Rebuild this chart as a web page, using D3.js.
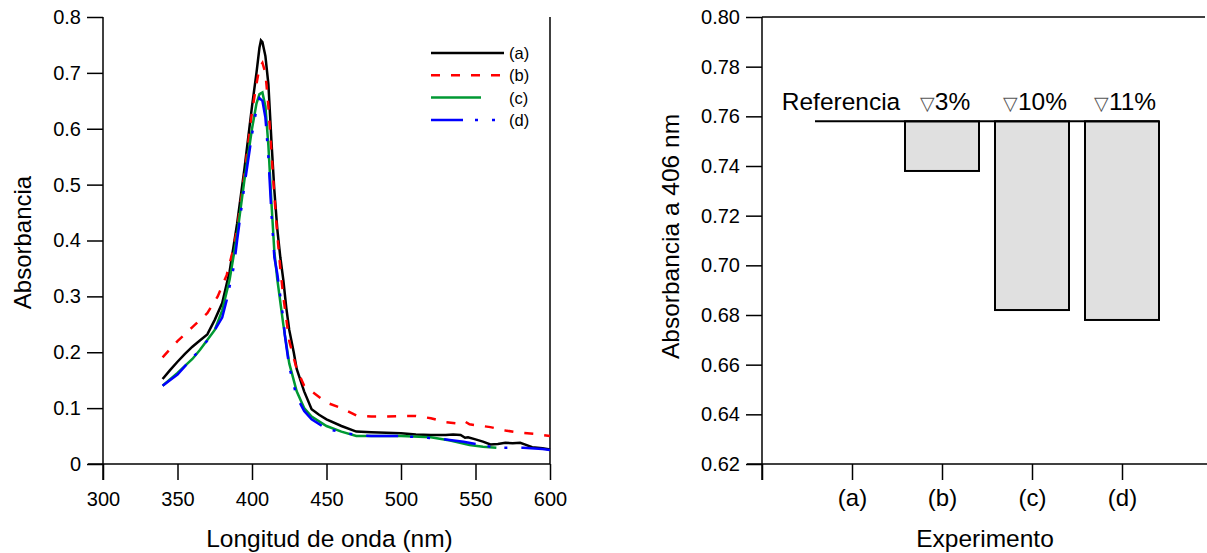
<!DOCTYPE html>
<html>
<head>
<meta charset="utf-8">
<script src="https://cdn.jsdelivr.net/npm/d3@7"></script>
<style>
  body { margin: 0; background: #fff; }
  svg { display: block; font-family: "Liberation Sans", Arial, sans-serif; }
  .axis path, .axis line { stroke: #000; stroke-width: 1.5; }
  .axis text { font-size: 20px; fill: #000; }
  .cat text { font-size: 24px; }
</style>
</head>
<body>
<div class="chart"></div>
<script>
// ---- left panel: spectra ----
const xTicks = [300, 350, 400, 450, 500, 550, 600];
const yTicks = [0, 0.1, 0.2, 0.3, 0.4, 0.5, 0.6, 0.7, 0.8];

const wlA = [340,345,350,355,360,365,370,375,380,385,390,395,400,403,405,406,407,409,411,413,415,417,419,421,423,425,428,430,435,440,445,450,460,470,480,490,500,510,520,530,535,540,543,545,550,555,560,565,570,575,580,583,588,595,600];
const absA = [0.152,0.168,0.183,0.197,0.210,0.221,0.232,0.258,0.288,0.345,0.43,0.53,0.64,0.70,0.745,0.758,0.755,0.73,0.68,0.58,0.49,0.42,0.37,0.33,0.28,0.24,0.20,0.17,0.13,0.098,0.088,0.080,0.068,0.058,0.057,0.056,0.055,0.053,0.052,0.052,0.053,0.052,0.047,0.048,0.044,0.040,0.035,0.036,0.038,0.037,0.038,0.035,0.030,0.028,0.026];

const wlB = [340,350,360,370,377,383,387,390,395,400,403,405,407,409,411,413,415,417,419,421,425,430,435,440,450,460,470,480,490,500,510,520,530,540,543,546,560,570,580,590,600];
const absB = [0.191,0.22,0.245,0.27,0.30,0.338,0.38,0.42,0.52,0.63,0.68,0.71,0.718,0.70,0.64,0.56,0.48,0.41,0.35,0.30,0.22,0.17,0.14,0.13,0.11,0.10,0.087,0.085,0.085,0.086,0.086,0.082,0.075,0.072,0.076,0.071,0.066,0.060,0.056,0.054,0.050];

const wlC = [340,350,360,365,370,375,380,385,390,395,400,403,405,407,409,411,413,415,417,419,421,425,430,435,440,450,460,470,480,500,520,533,546,555,564];
const absC = [0.140,0.163,0.188,0.204,0.222,0.240,0.275,0.33,0.41,0.51,0.60,0.645,0.662,0.665,0.64,0.57,0.47,0.38,0.33,0.29,0.25,0.18,0.13,0.10,0.085,0.068,0.058,0.050,0.050,0.050,0.048,0.042,0.034,0.031,0.029];

const wlD = [340,350,360,365,373,380,383,388,390,395,400,403,405,407,409,411,413,415,417,419,421,422,425,430,435,440,450,460,470,480,500,523,542,560,568,582,595,600];
const absD = [0.140,0.160,0.190,0.204,0.231,0.262,0.293,0.356,0.40,0.50,0.59,0.635,0.655,0.650,0.62,0.55,0.45,0.37,0.34,0.30,0.26,0.231,0.174,0.12,0.095,0.080,0.063,0.057,0.052,0.050,0.050,0.046,0.040,0.031,0.029,0.029,0.027,0.025];

const seriesNames = ["(a)", "(b)", "(c)", "(d)"];
const seriesColors = ["#000000", "#ff0000", "#009933", "#0000ff"];
const seriesDash = [null, "9,11", null, "32,12,3,14,3,14"];
const legendLen = [73, 73, 50, 73];

// ---- right panel: absorbance at 406 nm ----
const experiments = ["(a)", "(b)", "(c)", "(d)"];
const abs406 = [0.758, 0.738, 0.682, 0.678];
const barLabels = ["Referencia", "3%", "10%", "11%"];
const y2Ticks = [0.62, 0.64, 0.66, 0.68, 0.70, 0.72, 0.74, 0.76, 0.78, 0.80];

const W = 1207, H = 553;
const svg = d3.select(".chart").append("svg").attr("width", W).attr("height", H);

// left scales
const x = d3.scaleLinear().domain([300, 600]).range([103, 550]);
const y = d3.scaleLinear().domain([0, 0.8]).range([464, 17]);

const gx = svg.append("g").attr("class", "axis")
  .attr("transform", "translate(0," + y(0) + ")")
  .call(d3.axisBottom(x).tickValues(xTicks).tickFormat(d3.format("d")).tickSize(16).tickPadding(12).tickSizeOuter(0));
gx.select(".domain").attr("d", "M" + (x(300) - 15) + ",0H" + x(600));

const gy = svg.append("g").attr("class", "axis")
  .attr("transform", "translate(" + x(300) + ",0)")
  .call(d3.axisLeft(y).tickValues(yTicks).tickFormat(d => d === 0 ? "0" : d3.format(".1f")(d)).tickSize(16).tickPadding(6).tickSizeOuter(0));
gy.select(".domain").attr("d", "M0," + y(0.8) + "V" + (y(0) + 16));

// right border of left panel
svg.append("line").attr("x1", x(600)).attr("x2", x(600)).attr("y1", y(0.8)).attr("y2", y(0))
  .attr("stroke", "#000").attr("stroke-width", 1.5);

svg.append("text").attr("x", (x(300) + x(600)) / 2 + 3).attr("y", 547)
  .attr("text-anchor", "middle").style("font-size", "24.5px").text("Longitud de onda (nm)");
svg.append("text").attr("transform", "translate(31," + ((y(0) + y(0.8)) / 2 + 2) + ") rotate(-90)")
  .attr("text-anchor", "middle").style("font-size", "24px").text("Absorbancia");

const spectra = [[wlA, absA], [wlB, absB], [wlC, absC], [wlD, absD]];
const line = d3.line().x(d => x(d[0])).y(d => y(d[1]));

spectra.forEach((s, i) => {
  const pts = d3.zip(s[0], s[1]);
  svg.append("path").datum(pts)
    .attr("d", line)
    .attr("fill", "none")
    .attr("stroke", seriesColors[i])
    .attr("stroke-width", 2.5)
    .attr("stroke-dasharray", seriesDash[i]);
});

// legend
const legend = svg.append("g").attr("transform", "translate(431,53)");
seriesNames.forEach((name, i) => {
  const g = legend.append("g").attr("transform", "translate(0," + i * 22.3 + ")");
  g.append("line").attr("x1", 0).attr("x2", legendLen[i]).attr("y1", 0).attr("y2", 0)
    .attr("stroke", seriesColors[i]).attr("stroke-width", 2.5)
    .attr("stroke-dasharray", seriesDash[i]);
  g.append("text").attr("x", 78).attr("y", 6).style("font-size", "16.5px").text(name);
});

// right scales
const x2 = d3.scaleLinear().domain([0, 5]).range([762, 1212]);
const y2 = d3.scaleLinear().domain([0.62, 0.80]).range([464, 17]);

const gx2 = svg.append("g").attr("class", "axis cat")
  .attr("transform", "translate(0," + y2(0.62) + ")")
  .call(d3.axisBottom(x2).tickValues([0, 1, 2, 3, 4])
    .tickFormat(d => d === 0 ? "" : experiments[d - 1]).tickSize(16).tickPadding(9).tickSizeOuter(0));
gx2.select(".domain").attr("d", "M" + (x2(0) - 15) + ",0H" + W);

const gy2 = svg.append("g").attr("class", "axis")
  .attr("transform", "translate(" + x2(0) + ",0)")
  .call(d3.axisLeft(y2).tickValues(y2Ticks).tickFormat(d3.format(".2f")).tickSize(16).tickPadding(6).tickSizeOuter(0));
gy2.select(".domain").attr("d", "M0," + y2(0.80) + "V" + (y2(0.62) + 16));

// top border of right panel
svg.append("line").attr("x1", x2(0)).attr("x2", 1205).attr("y1", y2(0.80)).attr("y2", y2(0.80))
  .attr("stroke", "#000").attr("stroke-width", 1.5);

svg.append("text").attr("x", 985).attr("y", 547)
  .attr("text-anchor", "middle").style("font-size", "24.5px").text("Experimento");
svg.append("text").attr("transform", "translate(679," + ((y2(0.62) + y2(0.80)) / 2 - 4) + ") rotate(-90)")
  .attr("text-anchor", "middle").style("font-size", "24.5px").text("Absorbancia a 406 nm");

const ref = abs406[0];
const barW = 74;

svg.append("g").selectAll("rect").data(abs406).enter().append("rect")
  .attr("x", (d, i) => x2(i + 1) - barW / 2)
  .attr("y", y2(ref))
  .attr("width", barW)
  .attr("height", d => y2(d) - y2(ref))
  .attr("fill", "#e0e0e0")
  .attr("stroke", "#000")
  .attr("stroke-width", 2);

svg.append("line")
  .attr("x1", x2(1) - barW / 2).attr("x2", x2(4) + barW / 2)
  .attr("y1", y2(ref)).attr("y2", y2(ref))
  .attr("stroke", "#000").attr("stroke-width", 2);

const lbl = svg.append("g").selectAll("text").data(barLabels).enter().append("text")
  .attr("x", (d, i) => x2(i + 1) + (i === 0 ? -11 : 3))
  .attr("y", y2(ref) - 11)
  .attr("text-anchor", "middle")
  .style("font-size", "24.5px");
lbl.each(function(d, i) {
  const t = d3.select(this);
  if (i > 0) t.append("tspan").style("font-size", "19px").attr("fill", "#555").text("\u25BD");
  t.append("tspan").text(d);
});
</script>
</body>
</html>
